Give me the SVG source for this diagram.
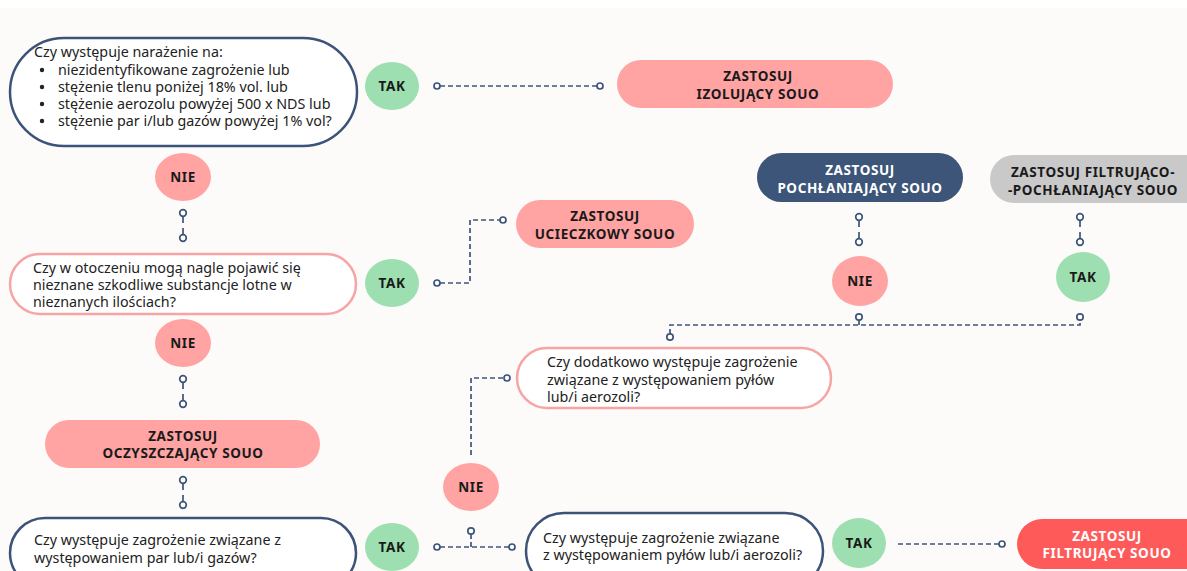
<svg xmlns="http://www.w3.org/2000/svg" width="1187" height="571" viewBox="0 0 1187 571">
<style>
.q{font-family:"Noto Sans","Open Sans",sans-serif;font-size:14.3px;fill:#222}
.b{font-family:"Noto Sans","Open Sans",sans-serif;font-size:13.5px;letter-spacing:0.6px;font-weight:700;fill:#1a1a1a;text-anchor:middle}
.w{fill:#fff}
.yes{fill:#9ddfb1}
.no{fill:#ffa3a3}
.act{fill:#ffa3a3}
.navyb{fill:#fff;stroke:#3b5378;stroke-width:2.5}
.pinkb{fill:#fff;stroke:#f6a4a4;stroke-width:2.5}
.c{fill:none;stroke:#3d5579;stroke-width:1.7;stroke-dasharray:5 3}
.p{fill:#fff;stroke:#3d5579;stroke-width:1.7}
</style>
<rect width="1187" height="571" fill="#fdfbfa"/>
<rect width="1187" height="8" fill="#ffffff"/>

<g id="connectors">
  <line class="c" x1="440" y1="86" x2="597" y2="86"/>
  <circle class="p" cx="437" cy="86" r="3"/><circle class="p" cx="600" cy="86" r="3"/>
  <line class="c" x1="183" y1="216" x2="183" y2="235" style="stroke-dasharray:7 5"/>
  <circle class="p" cx="183" cy="213" r="3.3"/><circle class="p" cx="183" cy="238" r="3.3"/>
  <polyline class="c" points="440,283 470,283 470,220 500,220"/>
  <circle class="p" cx="437" cy="283" r="3"/><circle class="p" cx="503" cy="220" r="3"/>
  <line class="c" x1="183" y1="382" x2="183" y2="401" style="stroke-dasharray:7 5"/>
  <circle class="p" cx="183" cy="379" r="3.3"/><circle class="p" cx="183" cy="404" r="3.3"/>
  <line class="c" x1="183" y1="483" x2="183" y2="502" style="stroke-dasharray:7 5"/>
  <circle class="p" cx="183" cy="480" r="3.3"/><circle class="p" cx="183" cy="505" r="3.3"/>
  <line class="c" x1="440" y1="547" x2="509" y2="547"/>
  <circle class="p" cx="437" cy="547" r="3"/><circle class="p" cx="512" cy="547" r="3"/>
  <line class="c" x1="471" y1="534" x2="471" y2="547"/>
  <circle class="p" cx="471" cy="531" r="3.2"/>
  <polyline class="c" points="471,455 471,378 504,378"/>
  <circle class="p" cx="507" cy="378" r="3"/>
  <polyline class="c" points="670,334 670,325 1080,325 1080,320"/>
  <circle class="p" cx="670" cy="337" r="3.2"/>
  <line class="c" x1="859" y1="320" x2="859" y2="325"/>
  <circle class="p" cx="859" cy="317" r="3.2"/><circle class="p" cx="1080" cy="317" r="3.2"/>
  <line class="c" x1="859" y1="220" x2="859" y2="239" style="stroke-dasharray:7 5"/>
  <circle class="p" cx="859" cy="217" r="3.3"/><circle class="p" cx="859" cy="242" r="3.3"/>
  <line class="c" x1="1080" y1="220" x2="1080" y2="239" style="stroke-dasharray:7 5"/>
  <circle class="p" cx="1080" cy="217" r="3.3"/><circle class="p" cx="1080" cy="242" r="3.3"/>
  <line class="c" x1="898" y1="544" x2="999" y2="544"/>
  <circle class="p" cx="1002" cy="544" r="3"/>
</g>

<g id="q1">
  <rect class="navyb" x="10" y="38" width="347" height="108" rx="54"/>
  <text class="q" x="34" y="57">Czy występuje narażenie na:</text>
  <g fill="#222"><circle cx="42" cy="70" r="2.2"/><circle cx="42" cy="87" r="2.2"/><circle cx="42" cy="104" r="2.2"/><circle cx="42" cy="121" r="2.2"/></g>
  <text class="q" x="58" y="75">niezidentyfikowane zagrożenie lub</text>
  <text class="q" x="58" y="92">stężenie tlenu poniżej 18% vol. lub</text>
  <text class="q" x="58" y="109">stężenie aerozolu powyżej 500 x NDS lub</text>
  <text class="q" x="58" y="126">stężenie par i/lub gazów powyżej 1% vol?</text>
</g>
<g id="tak1"><ellipse class="yes" cx="392" cy="86" rx="27" ry="24"/><text class="b" x="392" y="91">TAK</text></g>
<g id="izol"><rect class="act" x="617" y="60" width="276" height="48" rx="24"/><text class="b" x="758" y="81">ZASTOSUJ</text><text class="b" x="758" y="99">IZOLUJĄCY SOUO</text></g>

<g id="nie1"><ellipse class="no" cx="183" cy="177" rx="28" ry="24"/><text class="b" x="183" y="182">NIE</text></g>

<g id="q2">
  <rect class="pinkb" x="10" y="254" width="346" height="60" rx="30"/>
  <text class="q" x="33" y="273">Czy w otoczeniu mogą nagle pojawić się</text>
  <text class="q" x="33" y="290">nieznane szkodliwe substancje lotne w</text>
  <text class="q" x="33" y="307">nieznanych ilościach?</text>
</g>
<g id="tak2"><ellipse class="yes" cx="392" cy="283" rx="27" ry="24"/><text class="b" x="392" y="288">TAK</text></g>
<g id="uciecz"><rect class="act" x="516" y="200" width="178" height="48" rx="24"/><text class="b" x="605" y="221">ZASTOSUJ</text><text class="b" x="605" y="239">UCIECZKOWY SOUO</text></g>

<g id="nie2"><ellipse class="no" cx="183" cy="343" rx="28" ry="24"/><text class="b" x="183" y="348">NIE</text></g>
<g id="oczysz"><rect class="act" x="45" y="420" width="275" height="48" rx="24"/><text class="b" x="183" y="441">ZASTOSUJ</text><text class="b" x="183" y="458">OCZYSZCZAJĄCY SOUO</text></g>

<g id="q3">
  <rect class="navyb" x="10" y="518" width="346" height="70" rx="35"/>
  <text class="q" x="34" y="545">Czy występuje zagrożenie związane z</text>
  <text class="q" x="34" y="563">występowaniem par lub/i gazów?</text>
</g>
<g id="tak3"><ellipse class="yes" cx="392" cy="547" rx="27" ry="24"/><text class="b" x="392" y="552">TAK</text></g>
<g id="nie3"><ellipse class="no" cx="471" cy="487" rx="28" ry="24"/><text class="b" x="471" y="492">NIE</text></g>

<g id="q4">
  <rect class="pinkb" x="517" y="348" width="314" height="60" rx="30"/>
  <text class="q" x="547" y="367">Czy dodatkowo występuje zagrożenie</text>
  <text class="q" x="547" y="385">związane z występowaniem pyłów</text>
  <text class="q" x="547" y="402">lub/i aerozoli?</text>
</g>
<g id="nie4"><ellipse class="no" cx="860" cy="281" rx="28" ry="25"/><text class="b" x="860" y="286">NIE</text></g>
<g id="tak4"><ellipse class="yes" cx="1083" cy="277" rx="27" ry="25"/><text class="b" x="1083" y="282">TAK</text></g>
<g id="pochl"><rect x="757" y="153" width="206" height="49" rx="24.5" fill="#3c5578"/><text class="b w" x="860" y="175">ZASTOSUJ</text><text class="b w" x="860" y="193">POCHŁANIAJĄCY SOUO</text></g>
<g id="filtrpochl"><rect x="990" y="155" width="220" height="48" rx="24" fill="#c9c9c9"/><text class="b" x="1093" y="177">ZASTOSUJ FILTRUJĄCO-</text><text class="b" x="1093" y="195">-POCHŁANIAJĄCY SOUO</text></g>

<g id="q5">
  <rect class="navyb" x="526" y="513" width="297" height="76" rx="38"/>
  <text class="q" x="543" y="543">Czy występuje zagrożenie związane</text>
  <text class="q" x="543" y="560">z występowaniem pyłów lub/i aerozoli?</text>
</g>
<g id="tak5"><ellipse class="yes" cx="859" cy="543" rx="27" ry="25"/><text class="b" x="859" y="548">TAK</text></g>
<g id="filtr"><rect x="1017" y="519" width="200" height="50" rx="25" fill="#ff5a5a"/><text class="b w" x="1107" y="541">ZASTOSUJ</text><text class="b w" x="1107" y="558">FILTRUJĄCY SOUO</text></g>
</svg>
